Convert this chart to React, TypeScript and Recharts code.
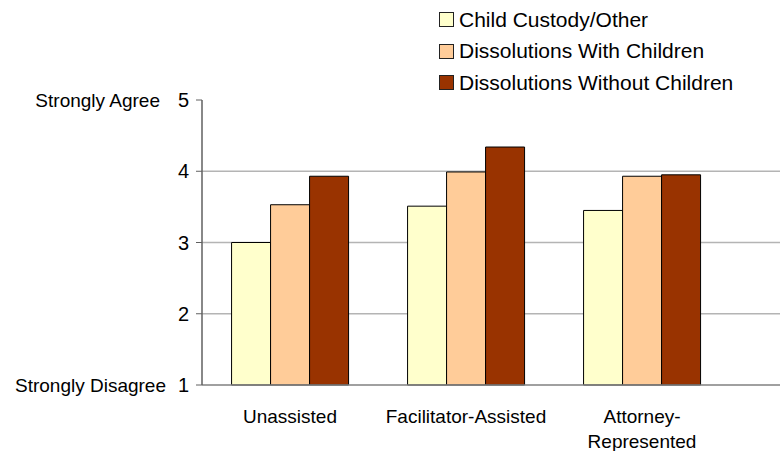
import { BarChart, Bar, XAxis, YAxis, CartesianGrid } from 'recharts';

const categories = ['Unassisted', 'Facilitator-Assisted', 'Attorney-Represented'];
const categoryLines = [['Unassisted'], ['Facilitator-Assisted'], ['Attorney-', 'Represented']];

const childCustody = [3.0, 3.51, 3.45];
const withChildren = [3.53, 3.99, 3.93];
const withoutChildren = [3.93, 4.34, 3.95];

const seriesNames = ['Child Custody/Other', 'Dissolutions With Children', 'Dissolutions Without Children'];
const seriesKeys = ['custody', 'withKids', 'withoutKids'];
const seriesColors = ['#FFFFCC', '#FFCC99', '#993300'];

const yTicks = [1, 2, 3, 4, 5];
const yEndLabels: Record<number, string> = { 5: 'Strongly Agree', 1: 'Strongly Disagree' };

const FONT = '"Liberation Sans", Arial, sans-serif';

const data = categories.map((name, i) => ({
  name,
  custody: childCustody[i],
  withKids: withChildren[i],
  withoutKids: withoutChildren[i],
}));

function YTick(props: any) {
  const { x, y, payload } = props;
  const side = yEndLabels[payload.value];
  return (
    <g>
      <text x={x - 3} y={y} dy="0.35em" textAnchor="end" fontSize={20} fill="#000" fontFamily={FONT}>
        {payload.value}
      </text>
      {side && (
        <text
          x={payload.value === 5 ? x - 32 : x - 26}
          y={y}
          dy="0.35em"
          textAnchor="end"
          fontSize={19}
          fill="#000"
          fontFamily={FONT}
        >
          {side}
        </text>
      )}
    </g>
  );
}

function XTick(props: any) {
  const { x, y, index } = props;
  const lines = categoryLines[index] ?? [props.payload.value];
  return (
    <g>
      {lines.map((line, i) => (
        <text
          key={i}
          x={x}
          y={y + 31 + i * 25}
          dy="0.35em"
          textAnchor="middle"
          fontSize={19}
          fill="#000"
          fontFamily={FONT}
        >
          {line}
        </text>
      ))}
    </g>
  );
}

// legend sits outside the chart so it doesn't eat into the plot area
function LegendBox() {
  return (
    <div
      style={{
        position: 'absolute',
        top: 4,
        left: 439,
        fontFamily: FONT,
        fontSize: 21,
        color: '#000',
      }}
    >
      {seriesNames.map((n, i) => (
        <div key={n} style={{ display: 'flex', alignItems: 'center', height: 31.5, whiteSpace: 'nowrap' }}>
          <span
            style={{
              display: 'inline-block',
              width: 13,
              height: 13,
              background: seriesColors[i],
              border: '1px solid #222',
              marginRight: 5,
            }}
          />
          {n}
        </div>
      ))}
    </div>
  );
}

export default function App() {
  return (
    <div style={{ position: 'absolute', left: 0, top: 0, width: 780, height: 451, background: '#fff' }}>
      <BarChart
        width={780}
        height={451}
        data={data}
        margin={{ top: 100, right: 0, bottom: 0, left: 0 }}
        barCategoryGap="16.8%"
        barGap={0}
      >
        <CartesianGrid vertical={false} horizontalValues={[2, 3, 4]} stroke="#b4b4b4" strokeWidth={1.5} />
        <XAxis
          dataKey="name"
          height={66}
          padding={{ left: 0, right: 50 }}
          axisLine={{ stroke: '#808080', strokeWidth: 1.5 }}
          tickLine={false}
          tickSize={0}
          tickMargin={0}
          tick={<XTick />}
          interval={0}
        />
        <YAxis
          width={202}
          domain={[1, 5]}
          ticks={yTicks}
          interval={0}
          axisLine={{ stroke: '#606060', strokeWidth: 1.5 }}
          tickLine={{ stroke: '#606060' }}
          tickSize={6}
          tickMargin={4}
          tick={<YTick />}
        />
        {seriesKeys.map((k, i) => (
          <Bar
            key={k}
            dataKey={k}
            name={seriesNames[i]}
            fill={seriesColors[i]}
            stroke="#000"
            strokeWidth={1}
            isAnimationActive={false}
          />
        ))}
      </BarChart>
      <LegendBox />
    </div>
  );
}
